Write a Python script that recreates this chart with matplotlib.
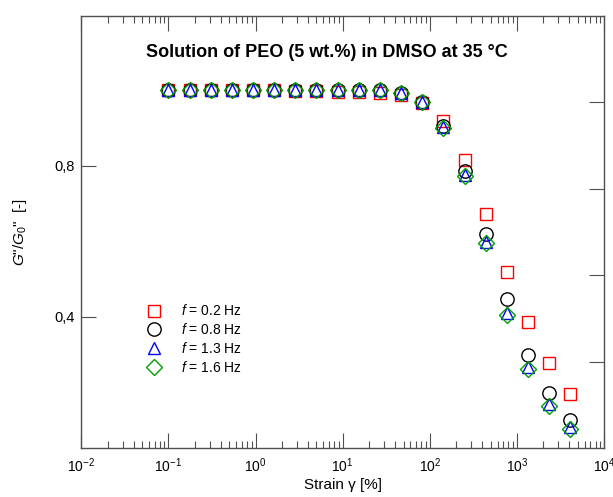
import matplotlib
matplotlib.use("Agg")
import matplotlib.pyplot as plt
from matplotlib.ticker import FixedLocator, LogLocator, NullFormatter, LogFormatterSciNotation

plt.rcParams['font.family'] = ['Liberation Sans', 'DejaVu Sans']
plt.rcParams['mathtext.fontset'] = 'custom'
plt.rcParams['mathtext.rm'] = 'Liberation Sans'
plt.rcParams['mathtext.it'] = 'Liberation Sans:italic'
plt.rcParams['mathtext.bf'] = 'Liberation Sans:bold'

# strain sweep [%]
strain = [0.1, 0.175, 0.306, 0.535, 0.936, 1.64, 2.86, 5.0, 8.76, 15.3,
          26.8, 46.8, 81.9, 143, 251, 438, 767, 1340, 2350, 4100]

# normalised loss modulus G''/G0'' at each frequency
g_02 = [1.0, 1.0, 1.0, 1.0, 1.0, 1.0, 0.998, 0.997, 0.995, 0.994,
        0.993, 0.988, 0.966, 0.918, 0.815, 0.672, 0.519, 0.385, 0.277, 0.194]
g_08 = [1.0, 1.0, 1.0, 1.0, 1.0, 1.0, 1.0, 1.0, 1.0, 1.0,
        0.999, 0.992, 0.968, 0.905, 0.786, 0.619, 0.446, 0.299, 0.197, 0.126]
g_13 = [1.0, 1.0, 1.0, 1.0, 1.0, 1.0, 1.0, 1.0, 1.0, 1.0,
        1.0, 0.992, 0.968, 0.902, 0.776, 0.597, 0.410, 0.267, 0.169, 0.109]
g_16 = [1.0, 1.0, 1.0, 1.0, 1.0, 1.0, 1.0, 1.0, 1.0, 1.0,
        1.0, 0.992, 0.968, 0.900, 0.772, 0.594, 0.405, 0.262, 0.164, 0.102]

labels = ["$f$ = 0.2 Hz", "$f$ = 0.8 Hz", "$f$ = 1.3 Hz", "$f$ = 1.6 Hz"]

fig = plt.figure(figsize=(6.13, 4.97), dpi=100)
ax = fig.add_axes([0.1326, 0.098, 0.8527, 0.8704])

ax.plot(strain, g_02, ls='none', marker='s', ms=8.6, mfc='none', mec='#ff0000', mew=1.0, label=labels[0])
ax.plot(strain, g_08, ls='none', marker='o', ms=9.6, mfc='none', mec='#000000', mew=1.0, label=labels[1])
ax.plot(strain, g_13, ls='none', marker='^', ms=8.6, mfc='none', mec='#0000ff', mew=1.0, label=labels[2])
ax.plot(strain, g_16, ls='none', marker='D', ms=8.0, mfc='none', mec='#00a000', mew=1.0, label=labels[3])

ax.set_xscale('log')
ax.set_xlim(1e-2, 1e4)
ax.set_ylim(0.0514, 1.197)

axis_grey = '#505050'
for sp in ax.spines.values():
    sp.set_color(axis_grey)
    sp.set_linewidth(1.0)

ax.xaxis.set_major_locator(LogLocator(base=10, numticks=10))
ax.xaxis.set_major_formatter(LogFormatterSciNotation())
ax.xaxis.set_minor_locator(LogLocator(base=10, subs=range(2, 10), numticks=100))
ax.xaxis.set_minor_formatter(NullFormatter())
ax.yaxis.set_major_locator(FixedLocator([0.4, 0.8]))
ax.set_yticklabels(['0,4', '0,8'])

ax.tick_params(axis='x', which='major', direction='in', length=10.8, width=0.8,
               color=axis_grey, top=True, labelsize=10, pad=6)
ax.tick_params(axis='x', which='minor', direction='in', length=5.3, width=0.8,
               color=axis_grey, top=True)
ax.tick_params(axis='y', which='major', direction='in', length=10.8, width=0.8,
               color=axis_grey, labelsize=10.5, pad=5)

# right-hand scale ticks without labels
ax2 = ax.twinx()
ax2.set_ylim(0, 5)
ax2.yaxis.set_major_locator(FixedLocator([1, 2, 3, 4]))
ax2.tick_params(axis='y', direction='in', length=10.8, width=0.8, color=axis_grey,
                labelright=False)
for sp in ax2.spines.values():
    sp.set_visible(False)

ax.set_xlabel("Strain γ [%]", fontsize=11, labelpad=2)
ax.set_ylabel('$G$"/$G_0$"  [-]', fontsize=11, labelpad=18)

ax.text(0.47, 0.916, "Solution of PEO (5 wt.%) in DMSO at 35 °C",
        transform=ax.transAxes, ha='center', va='center',
        fontsize=13, fontweight='bold')

ax.legend(loc='upper left', bbox_to_anchor=(0.118, 0.335), frameon=False,
          fontsize=10, numpoints=1, borderpad=0, borderaxespad=0,
          handlelength=1.6, handletextpad=1.15, labelspacing=0.28)

fig.savefig("out.png", dpi=100)
